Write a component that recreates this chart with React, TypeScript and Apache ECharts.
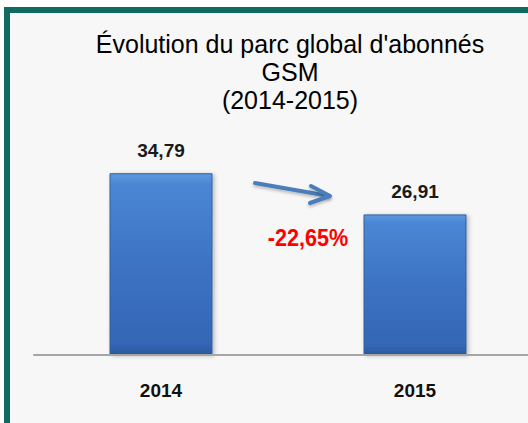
import React, { useEffect, useRef } from "react";
import * as echarts from "echarts";

const categories = ["2014", "2015"];
const values = [34.79, 26.91];
const titleLines = ["Évolution du parc global d'abonnés", "GSM", "(2014-2015)"];
const changeLabel = "-22,65%";

export default function App() {
  const ref = useRef<HTMLDivElement>(null);
  useEffect(() => {
    if (!ref.current) return;
    const chart = echarts.init(ref.current, undefined, { renderer: "svg" });
    const font = "'Liberation Sans', Arial, sans-serif";
    chart.setOption({
      animation: false,
      backgroundColor: "#ffffff",
      grid: { left: 34, right: 18, top: 146, height: 209, containLabel: false },
      xAxis: {
        type: "category",
        data: categories,
        axisLine: { show: true, lineStyle: { color: "#a6a6a6", width: 2 } },
        axisTick: { show: false },
        axisLabel: {
          margin: 26,
          color: "#111",
          fontFamily: font,
          fontWeight: "bold",
          fontSize: 19,
        },
        z: 5,
      },
      yAxis: {
        type: "value",
        min: 0,
        max: 40,
        show: false,
        splitLine: { show: false },
      },
      series: [
        {
          type: "bar",
          data: values,
          barWidth: 103,
          z: 4,
          itemStyle: {
            color: new echarts.graphic.LinearGradient(0, 0, 0, 1, [
              { offset: 0, color: "#5d98df" },
              { offset: 0.06, color: "#4a86d4" },
              { offset: 0.5, color: "#3d73c4" },
              { offset: 0.94, color: "#3466b5" },
              { offset: 1, color: "#2b579c" },
            ]),
            borderColor: "#30609f",
            borderWidth: 1,
            shadowColor: "rgba(0,0,0,0.25)",
            shadowBlur: 4,
            shadowOffsetX: 2,
            shadowOffsetY: 1,
          },
          label: {
            show: true,
            position: "top",
            distance: 13,
            color: "#1a1a1a",
            fontFamily: font,
            fontWeight: "bold",
            fontSize: 19,
            formatter: (p: any) => String(p.value).replace(".", ","),
          },
        },
      ],
      graphic: [
        {
          type: "rect",
          z: -10,
          silent: true,
          shape: { x: 4, y: 7, width: 600, height: 500 },
          style: { fill: "#0f6a60" },
        },
        {
          type: "rect",
          z: -9,
          silent: true,
          shape: { x: 10, y: 13, width: 600, height: 500 },
          style: { fill: "#f7f7f7" },
        },
        {
          type: "text",
          z: 10,
          style: {
            text: titleLines.join("\n"),
            x: 290,
            y: 30,
            textAlign: "center",
            textVerticalAlign: "top",
            font: `25px ${font}`,
            lineHeight: 28,
            fill: "#000",
          },
        },
        {
          type: "line",
          z: 10,
          shape: { x1: 255, y1: 183, x2: 329, y2: 196 },
          style: {
            stroke: "#4a7ebb",
            lineWidth: 4,
            lineCap: "round",
            shadowColor: "rgba(0,0,0,0.25)",
            shadowBlur: 3,
            shadowOffsetY: 2,
          },
        },
        {
          type: "polyline",
          z: 10,
          shape: { points: [[311, 186], [330, 196], [310, 203]] },
          style: {
            stroke: "#4a7ebb",
            lineWidth: 4,
            lineCap: "round",
            lineJoin: "round",
            fill: "none",
            shadowColor: "rgba(0,0,0,0.25)",
            shadowBlur: 3,
            shadowOffsetY: 2,
          },
        },
        {
          type: "text",
          z: 10,
          x: 308,
          y: 238,
          scaleX: 0.9,
          style: {
            text: changeLabel,
            x: 0,
            y: 0,
            textAlign: "center",
            textVerticalAlign: "middle",
            font: `bold 24px ${font}`,
            fill: "#ff0000",
          },
        },
      ],
    });
    return () => chart.dispose();
  }, []);
  return (
    <div
      style={{
        position: "fixed",
        left: 0,
        top: 0,
        width: 528,
        height: 423,
        overflow: "hidden",
      }}
    >
      <div ref={ref} style={{ width: 560, height: 423 }} />
    </div>
  );
}
